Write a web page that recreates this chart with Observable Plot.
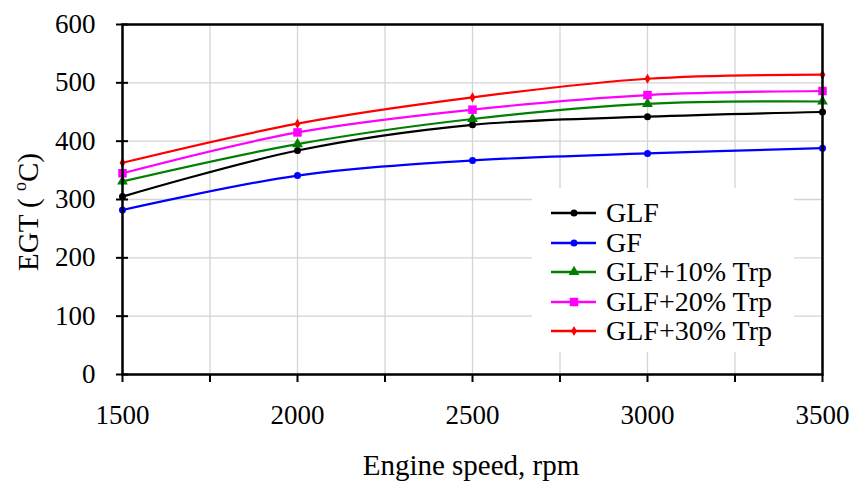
<!DOCTYPE html>
<html>
<head>
<meta charset="utf-8">
<script src="https://cdn.jsdelivr.net/npm/d3@7"></script>
<script src="https://cdn.jsdelivr.net/npm/@observablehq/plot@0.6"></script>
<style>
  body { margin: 0; background: #fff; }
  #wrap { position: relative; width: 856px; height: 486px; font-family: "Liberation Serif", "Times New Roman", serif; }
  #legend { position: absolute; left: 532px; top: 188px; width: 262px; height: 164px; background: #fff; }
  .row { position: absolute; left: 0; height: 30px; display: flex; align-items: center; }
  .row span { font-size: 28px; color: #000; margin-left: 10px; line-height: 30px; }
</style>
</head>
<body>
<div id="wrap"><div id="legend"></div></div>
<script>
const rpm = [1500, 2000, 2500, 3000, 3500];
const seriesNames = ["GLF", "GF", "GLF+10% Trp", "GLF+20% Trp", "GLF+30% Trp"];
const GLF   = [305, 384, 428, 442, 450];
const GF    = [282, 341, 367, 379, 388];
const GLF10 = [331, 395, 438, 464, 468];
const GLF20 = [345, 415, 454, 479, 486];
const GLF30 = [363, 430, 475, 507, 514];
const seriesColors = ["#000000", "#0000ff", "#008000", "#ff00ff", "#ff0000"];
const seriesSymbols = ["circle", "circle", "triangle", "square", "diamond"];
const seriesR = [3.5, 3.5, 4, 4.8, 3.1];
const yTicks = [0, 100, 200, 300, 400, 500, 600];
const xMinorTicks = [1500, 1750, 2000, 2250, 2500, 2750, 3000, 3250, 3500];
const xLabelTicks = [1500, 2000, 2500, 3000, 3500];
const xTitle = "Engine speed, rpm";

const valuesList = [GLF, GF, GLF10, GLF20, GLF30];
const data = [];
seriesNames.forEach((s, i) => rpm.forEach((x, j) => data.push({series: s, rpm: x, egt: valuesList[i][j]})));

const marks = [
  Plot.gridX(xMinorTicks, {stroke: "#d4d4d4", strokeOpacity: 1, strokeWidth: 1.3}),
  Plot.gridY(yTicks, {stroke: "#d4d4d4", strokeOpacity: 1, strokeWidth: 1.3}),
];
seriesNames.forEach((s, i) => {
  const d = data.filter(r => r.series === s);
  marks.push(Plot.line(d, {x: "rpm", y: "egt", stroke: seriesColors[i], strokeWidth: 2.2, curve: "catmull-rom"}));
  marks.push(Plot.dot(d, {x: "rpm", y: "egt", fill: seriesColors[i], stroke: "none", symbol: seriesSymbols[i], r: seriesR[i]}));
});
marks.push(
  Plot.frame({stroke: "#000", strokeWidth: 2.5}),
  Plot.axisY(yTicks, {tickSize: 0, tickPadding: 27, fontSize: 27, label: null, tickFormat: d => String(d)}),
  Plot.axisY(yTicks, {tickSize: 12, dx: 6, text: null, label: null, strokeWidth: 2}),
  Plot.axisX(xMinorTicks, {tickSize: 8, text: null, label: null, strokeWidth: 2}),
  Plot.axisX(xLabelTicks, {tickSize: 0, tickPadding: 30, fontSize: 27, label: null, tickFormat: d => String(d)})
);

const chart = Plot.plot({
  width: 856,
  height: 486,
  marginLeft: 122,
  marginRight: 34,
  marginTop: 24,
  marginBottom: 112,
  style: {fontFamily: "'Liberation Serif', 'Times New Roman', serif", fontSize: "27px", color: "#000", background: "#fff", overflow: "visible"},
  x: {domain: [1500, 3500]},
  y: {domain: [0, 600]},
  marks
});
const wrap = document.getElementById("wrap");
wrap.insertBefore(chart, wrap.firstChild);

const svg = d3.select(chart);
// x-axis title
svg.append("text")
  .attr("x", 471).attr("y", 475)
  .attr("text-anchor", "middle")
  .attr("font-size", 29)
  .attr("fill", "#000")
  .text(xTitle);
// y-axis title with superscript
const yl = svg.append("text")
  .attr("transform", "translate(38,212) rotate(-90)")
  .attr("text-anchor", "middle")
  .attr("font-size", 29)
  .attr("fill", "#000");
yl.append("tspan").text("EGT ( ");
yl.append("tspan").attr("font-size", 18).attr("dy", -12).text("o");
yl.append("tspan").attr("dy", 12).text("C)");

// legend
const leg = d3.select("#legend");
seriesNames.forEach((s, i) => {
  const row = leg.append("div").attr("class", "row").style("top", (10 + i * 29.5) + "px");
  const sw = row.append("svg").attr("width", 64).attr("height", 30);
  sw.append("line").attr("x1", 19).attr("x2", 64).attr("y1", 15).attr("y2", 15)
    .attr("stroke", seriesColors[i]).attr("stroke-width", 2.5);
  const typ = {circle: d3.symbolCircle, triangle: d3.symbolTriangle, square: d3.symbolSquare, diamond: d3.symbolDiamond}[seriesSymbols[i]];
  sw.append("path").attr("transform", "translate(42,15)")
    .attr("d", d3.symbol(typ, Math.PI * seriesR[i] * seriesR[i])())
    .attr("fill", seriesColors[i]);
  row.append("span").text(s);
});
</script>
</body>
</html>
